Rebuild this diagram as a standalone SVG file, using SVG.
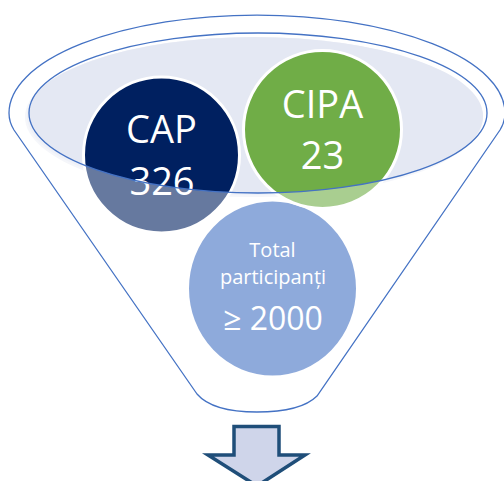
<svg xmlns="http://www.w3.org/2000/svg" width="504" height="481" viewBox="0 0 504 481">
  <style>
    .line { fill: none; stroke: #4472C4; stroke-width: 1.3; }
    .circ { stroke: #FFFFFF; stroke-width: 3; }
    .t { font-family: "Open Sans", "Liberation Sans", sans-serif; fill: #FFFFFF; text-anchor: middle; }
    .big { font-size: 38px; }
  </style>
  <rect width="504" height="481" fill="#FFFFFF"/>
  <g id="funnel-back">
    <ellipse cx="254" cy="117" rx="229" ry="80" fill="#EEF0F7"/>
    <ellipse cx="255" cy="116" rx="228" ry="79" fill="#E4E8F3"/>
  </g>
  <g id="node-total">
    <ellipse class="circ" cx="272.5" cy="288.5" rx="85" ry="88.5" fill="#4472C4"/>
  </g>
  <g id="node-cap">
    <circle class="circ" cx="161.5" cy="155" r="78" fill="#002060"/>
  </g>
  <g id="node-cipa">
    <circle class="circ" cx="322.5" cy="129.5" r="79" fill="#70AD47"/>
  </g>
  <g id="funnel-overlay">
    <path fill="#FFFFFF" fill-opacity="0.4" fill-rule="evenodd" d="M 197 394 L 14 130 Q 9 122 9 113 A 248 98 0 0 1 505 113 Q 505 122 500 130 L 317 396 C 305 408 280 412 257 412 C 234 412 209 408 197 394 Z M 29 113 A 229 80 0 0 0 487 113 A 229 80 0 0 0 29 113 Z"/>
  </g>
  <g id="labels">
    <text class="t big" x="161.5" y="143">CAP</text>
    <text class="t big" x="162" y="195">326</text>
    <text class="t big" x="322.5" y="118">CIPA</text>
    <text class="t big" x="322.5" y="169">23</text>
    <text class="t" x="272.5" y="257" font-size="20">Total</text>
    <text class="t" x="273" y="284" font-size="20">participanți</text>
    <text class="t" x="273" y="330" font-size="32">≥ 2000</text>
  </g>
  <g id="connectors">
    <path class="line" d="M 197 394 L 14 130 Q 9 122 9 113 A 248 98 0 0 1 505 113 Q 505 122 500 130 L 317 396 C 305 408 280 412 257 412 C 234 412 209 408 197 394 Z"/>
    <ellipse class="line" cx="258" cy="113" rx="229" ry="80"/>
    <path d="M 234 426.5 L 279 426.5 L 279 455 L 305 455 L 257 486 L 208 455 L 234 455 Z" fill="#CFD5EA" stroke="#1F4E79" stroke-width="3.5" stroke-linejoin="miter"/>
  </g>
</svg>
